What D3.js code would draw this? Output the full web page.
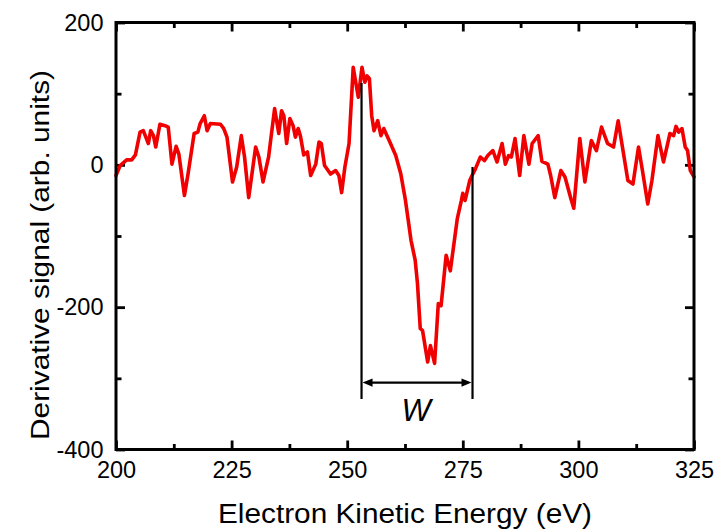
<!DOCTYPE html>
<html>
<head>
<meta charset="utf-8">
<script src="https://cdn.jsdelivr.net/npm/d3@7/dist/d3.min.js"></script>
<style>
  html, body { margin: 0; padding: 0; background: #fff; }
  svg { display: block; font-family: "Liberation Sans", Arial, sans-serif; }
</style>
</head>
<body>
<svg id="chart" width="715" height="532"></svg>
<script>
// Auger derivative spectrum: energy (eV) and derivative signal (arb. units)
const energy = [
  200.0, 200.9, 202.3, 203.4, 204.2, 205.2, 205.9, 207.0, 207.5, 208.1,
  208.6, 209.5, 210.6, 211.3, 212.1, 213.0, 213.6, 214.8, 215.6, 216.9,
  217.7, 218.2, 219.1, 219.7, 220.4, 222.6, 223.3, 224.0, 225.2, 226.1,
  227.1, 227.8, 228.7, 230.2, 230.9, 231.8, 233.0, 234.3, 235.2, 235.8,
  236.3, 236.9, 237.6, 238.3, 238.8, 239.4, 239.9, 240.6, 241.4, 242.1,
  243.2, 243.9, 244.4, 245.1, 246.4, 247.5, 248.2, 248.8, 249.5, 250.4,
  251.3, 251.9, 252.4, 253.2, 253.8, 254.3, 254.8, 255.3, 255.8, 256.6,
  257.3, 257.9, 259.1, 260.5, 261.6, 262.6, 263.2, 263.8, 264.7, 265.2,
  265.8, 266.3, 267.4, 268.0, 268.9, 269.7, 270.3, 271.4, 272.3, 273.8,
  274.7, 275.0, 275.5, 276.5, 277.0, 277.7, 278.8, 279.7, 280.4, 281.5,
  282.4, 283.5, 284.2, 284.9, 285.5, 286.3, 287.3, 288.2, 289.3, 290.0,
  291.3, 292.1, 293.4, 294.0, 294.9, 296.2, 297.1, 298.4, 299.0, 300.3,
  301.4, 302.8, 303.9, 305.0, 306.3, 307.6, 308.6, 310.7, 311.8, 313.0,
  313.9, 315.0, 315.9, 317.2, 318.4, 319.8, 320.6, 321.1, 321.7, 322.4,
  323.1, 323.6, 324.2, 325.0
];
const signal = [
  -15, -1, 7, 7, 14, 46, 48, 30, 48, 41,
  25, 57, 55, 53, 1, 26, 15, -43, -12, 44,
  46, 58, 69, 48, 58, 57, 51, 39, -24, -3,
  41, 11, -46, 25, 11, -24, 11, 79, 44, 76,
  69, 30, 65, 55, 39, 51, 40, 14, 18, -15,
  1, 32, 30, -1, -13, -8, -15, -39, -3, 30,
  137, 114, 95, 137, 116, 125, 121, 69, 48, 62,
  41, 51, 34, 13, -13, -50, -78, -106, -134, -167,
  -230, -233, -277, -254, -279, -195, -198, -127, -149, -76,
  -50, -40, -50, -22, -15, -6, 11, 6, 13, 20,
  4, 30, 1, 13, 11, 37, -15, 41, 1, 30,
  41, 5, 1, -15, -46, -8, -17, -48, -61, 37,
  -24, 34, 20, 53, 30, 25, 62, -22, -27, 25,
  -10, -55, -22, 41, 4, 44, 41, 54, 46, 51,
  25, 20, -8, -17
];

// Axis ticks
const xTicks = [200, 225, 250, 275, 300, 325];
const xMinorTicks = [212.5, 237.5, 262.5, 287.5, 312.5];
const yTicks = [200, 0, -200, -400];
const yMinorTicks = [100, -100, -300];

// Peak-width marker W: edges (eV), top of each edge line, common bottom, arrow level
const markerEnergy = [253.1, 277.1];
const markerTop = [115, -3];
const markerBottom = -329;
const markerArrow = -306;
const markerLabel = "W";

const svg = d3.select("#chart");
const plotLeft = 116, plotRight = 694, plotTop = 22.5, plotBottom = 449.5;

const x = d3.scaleLinear().domain([200, 325]).range([plotLeft, plotRight]);
const y = d3.scaleLinear().domain([-400, 200]).range([plotBottom, plotTop]);

const fontTick = 23.5;

function styleAxis(g) {
  g.select(".domain").remove();
  g.selectAll(".tick line").attr("stroke", "#000").attr("stroke-width", 2.8);
  g.selectAll(".tick text").attr("fill", "#000").attr("font-size", fontTick)
    .attr("font-family", "'Liberation Sans', Arial, sans-serif");
}

// Bottom axis with labels
svg.append("g").attr("transform", `translate(0,${plotBottom})`)
  .call(d3.axisBottom(x).tickValues(xTicks).tickSizeInner(-9).tickSizeOuter(0)
    .tickPadding(11.5).tickFormat(d3.format("d")))
  .call(styleAxis);
svg.append("g").attr("transform", `translate(0,${plotBottom})`)
  .call(d3.axisBottom(x).tickValues(xMinorTicks).tickSizeInner(-5.5).tickSizeOuter(0).tickFormat(""))
  .call(styleAxis);

// Top axis (ticks only)
svg.append("g").attr("transform", `translate(0,${plotTop})`)
  .call(d3.axisTop(x).tickValues(xTicks).tickSizeInner(-9).tickSizeOuter(0).tickFormat(""))
  .call(styleAxis);
svg.append("g").attr("transform", `translate(0,${plotTop})`)
  .call(d3.axisTop(x).tickValues(xMinorTicks).tickSizeInner(-5.5).tickSizeOuter(0).tickFormat(""))
  .call(styleAxis);

// Left axis with labels
svg.append("g").attr("transform", `translate(${plotLeft},0)`)
  .call(d3.axisLeft(y).tickValues(yTicks).tickSizeInner(-9).tickSizeOuter(0)
    .tickPadding(12.5).tickFormat(d => String(d)))
  .call(styleAxis);
svg.append("g").attr("transform", `translate(${plotLeft},0)`)
  .call(d3.axisLeft(y).tickValues(yMinorTicks).tickSizeInner(-5.5).tickSizeOuter(0).tickFormat(""))
  .call(styleAxis);

// Right axis (ticks only)
svg.append("g").attr("transform", `translate(${plotRight},0)`)
  .call(d3.axisRight(y).tickValues(yTicks).tickSizeInner(-9).tickSizeOuter(0).tickFormat(""))
  .call(styleAxis);
svg.append("g").attr("transform", `translate(${plotRight},0)`)
  .call(d3.axisRight(y).tickValues(yMinorTicks).tickSizeInner(-5.5).tickSizeOuter(0).tickFormat(""))
  .call(styleAxis);

// Spectrum curve
const line = d3.line().x((d, i) => x(energy[i])).y(d => y(d));
svg.append("path")
  .datum(signal)
  .attr("d", line)
  .attr("fill", "none")
  .attr("stroke", "#f00000")
  .attr("stroke-width", 3.6)
  .attr("stroke-linejoin", "round")
  .attr("stroke-linecap", "round");

// Frame
svg.append("rect")
  .attr("x", plotLeft).attr("y", plotTop)
  .attr("width", plotRight - plotLeft).attr("height", plotBottom - plotTop)
  .attr("fill", "none").attr("stroke", "#000").attr("stroke-width", 3);

// Width marker: two edge lines and a double-headed arrow
const marker = svg.append("g").attr("stroke", "#000").attr("stroke-width", 2.2);
markerEnergy.forEach((e, i) => {
  marker.append("line")
    .attr("x1", x(e)).attr("x2", x(e))
    .attr("y1", y(markerTop[i])).attr("y2", y(markerBottom));
});
const ax0 = x(markerEnergy[0]), ax1 = x(markerEnergy[1]), ay = y(markerArrow);
const headLen = 11, headHalf = 4.2;
marker.append("line")
  .attr("x1", ax0 + headLen - 1).attr("x2", ax1 - headLen + 1)
  .attr("y1", ay).attr("y2", ay);
svg.append("path")
  .attr("d", `M${ax0 + 1},${ay} L${ax0 + headLen},${ay - headHalf} L${ax0 + headLen},${ay + headHalf} Z`)
  .attr("fill", "#000");
svg.append("path")
  .attr("d", `M${ax1 - 1},${ay} L${ax1 - headLen},${ay - headHalf} L${ax1 - headLen},${ay + headHalf} Z`)
  .attr("fill", "#000");
svg.append("text")
  .attr("x", (ax0 + ax1) / 2 - 1)
  .attr("y", 421)
  .attr("text-anchor", "middle")
  .attr("font-style", "italic")
  .attr("font-size", 31)
  .attr("fill", "#000")
  .text(markerLabel);

// Axis titles
svg.append("text")
  .attr("x", 405).attr("y", 522.5)
  .attr("text-anchor", "middle")
  .attr("font-size", 27)
  .attr("textLength", 374)
  .attr("lengthAdjust", "spacingAndGlyphs")
  .attr("fill", "#000")
  .text("Electron Kinetic Energy (eV)");

svg.append("text")
  .attr("transform", "translate(48.5,255) rotate(-90)")
  .attr("text-anchor", "middle")
  .attr("font-size", 26)
  .attr("textLength", 370)
  .attr("lengthAdjust", "spacingAndGlyphs")
  .attr("fill", "#000")
  .text("Derivative signal (arb. units)");
</script>
</body>
</html>
